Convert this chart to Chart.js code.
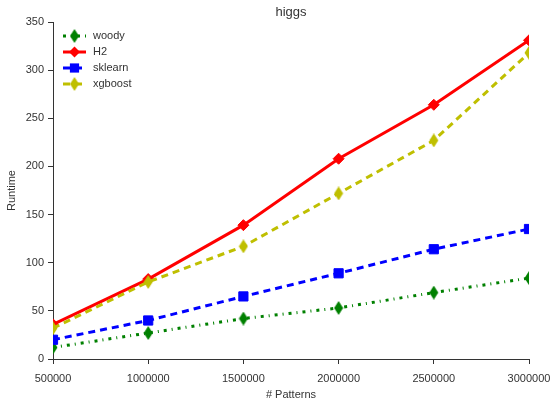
<!DOCTYPE html>
<html>
<head>
<meta charset="utf-8">
<script src="https://cdn.jsdelivr.net/npm/chart.js@4/dist/chart.umd.min.js"></script>
<style>
  html, body { margin: 0; padding: 0; background: #fff; }
  #wrap { width: 550px; height: 398px; }
</style>
</head>
<body>
<div id="wrap"><canvas id="higgsChart"></canvas></div>
<script>
const patterns = [500000, 1000000, 1500000, 2000000, 2500000, 3000000];
const woody = [12, 27, 42, 53, 69, 84];
const h2 = [36, 83, 139, 208, 264, 331];
const sklearn = [20, 40, 65, 89, 114, 135];
const xgboost = [32, 80, 117, 172, 227, 318];
const yTicks = [0, 50, 100, 150, 200, 250, 300, 350];

const textColor = '#333333';
const fontFamily = '"Liberation Sans", Arial, sans-serif';

// thin diamond marker ('d' in matplotlib)
function thinDiamond(color) {
    const c = document.createElement('canvas');
    c.width = 10;
    c.height = 14;
    const g = c.getContext('2d');
    g.fillStyle = color;
    g.beginPath();
    g.moveTo(5, 0);
    g.lineTo(9.5, 7);
    g.lineTo(5, 14);
    g.lineTo(0.5, 7);
    g.closePath();
    g.fill();
    return c;
}

function series(label, data, color, dash, style, radius, order) {
    return {
        label: label,
        data: patterns.map((p, i) => ({ x: p, y: data[i] })),
        borderColor: color,
        backgroundColor: color,
        borderWidth: 3,
        borderDash: dash,
        borderCapStyle: 'butt',
        pointStyle: style,
        pointRadius: radius,
        pointBorderWidth: 1,
        pointBorderColor: color,
        pointBackgroundColor: color,
        tension: 0,
        clip: 0,
        order: order
    };
}

const datasets = [
    series('woody', woody, '#008000', [3, 5, 1, 5], thinDiamond('#008000'), 6, 4),
    series('H2', h2, '#ff0000', [], 'rectRot', 5.5, 3),
    series('sklearn', sklearn, '#0000ff', [7, 5], 'rect', 6.5, 2),
    series('xgboost', xgboost, '#bfbf00', [7, 5], thinDiamond('#bfbf00'), 6, 1)
];

// markers are cut at the plot edges, like the original
const plotClip = {
    id: 'plotClip',
    beforeDatasetsDraw(chart) {
        const a = chart.chartArea;
        chart.ctx.save();
        chart.ctx.beginPath();
        chart.ctx.rect(a.left, a.top, a.right - a.left, a.bottom - a.top);
        chart.ctx.clip();
    },
    afterDatasetsDraw(chart) {
        chart.ctx.restore();
    }
};

// title and in-plot legend
const decorations = {
    id: 'decorations',
    afterDraw(chart) {
        const ctx = chart.ctx;
        const area = chart.chartArea;
        ctx.save();
        ctx.fillStyle = textColor;
        ctx.font = '13px ' + fontFamily;
        ctx.textAlign = 'center';
        ctx.textBaseline = 'middle';
        ctx.fillText('higgs', (area.left + area.right) / 2, 12);

        ctx.font = '11px ' + fontFamily;
        ctx.textAlign = 'left';
        datasets.forEach((ds, i) => {
            const y = 36 + i * 16;
            const x0 = 63, x1 = 86, xm = 74.5;
            ctx.strokeStyle = ds.borderColor;
            ctx.lineWidth = 3;
            ctx.lineCap = 'butt';
            ctx.setLineDash(ds.borderDash);
            ctx.beginPath();
            ctx.moveTo(x0, y);
            ctx.lineTo(x1, y);
            ctx.stroke();
            ctx.setLineDash([]);
            ctx.fillStyle = ds.borderColor;
            const r = ds.pointRadius;
            if (ds.pointStyle instanceof HTMLCanvasElement) {
                const img = ds.pointStyle;
                ctx.drawImage(img, xm - img.width / 2, y - img.height / 2);
            } else if (ds.pointStyle === 'rectRot') {
                ctx.beginPath();
                ctx.moveTo(xm, y - r);
                ctx.lineTo(xm + r, y);
                ctx.lineTo(xm, y + r);
                ctx.lineTo(xm - r, y);
                ctx.closePath();
                ctx.fill();
            } else {
                const s = r * Math.SQRT1_2;
                ctx.fillRect(xm - s, y - s, 2 * s, 2 * s);
            }
            ctx.fillStyle = textColor;
            ctx.fillText(ds.label, 93, y);
        });
        ctx.restore();
    }
};

new Chart(document.getElementById('higgsChart').getContext('2d'), {
    type: 'line',
    data: { datasets: datasets },
    options: {
        responsive: true,
        maintainAspectRatio: false,
        animation: false,
        layout: { padding: { top: 22, right: 21, left: 0, bottom: 0 } },
        plugins: {
            legend: { display: false },
            tooltip: { enabled: false }
        },
        scales: {
            x: {
                type: 'linear',
                min: 500000,
                max: 3000000,
                afterFit: (scale) => {
                    scale.height = 39;
                    scale.paddingLeft = 0;
                    scale.paddingRight = 0;
                },
                afterBuildTicks: (scale) => {
                    scale.ticks = patterns.map(v => ({ value: v }));
                },
                ticks: {
                    color: textColor,
                    font: { family: fontFamily, size: 11 },
                    padding: 8,
                    maxRotation: 0,
                    autoSkip: false,
                    callback: (v) => String(v)
                },
                grid: {
                    drawOnChartArea: false,
                    tickLength: 5,
                    tickColor: textColor
                },
                border: { color: textColor, width: 1 },
                title: {
                    display: true,
                    text: '# Patterns',
                    color: textColor,
                    font: { family: fontFamily, size: 11 },
                    padding: { top: 0, bottom: -4 }
                }
            },
            y: {
                min: 0,
                max: 350,
                afterFit: (scale) => {
                    scale.width = 53;
                    scale.paddingTop = 0;
                    scale.paddingBottom = 0;
                },
                afterBuildTicks: (scale) => {
                    scale.ticks = yTicks.map(v => ({ value: v }));
                },
                ticks: {
                    color: textColor,
                    font: { family: fontFamily, size: 11 },
                    padding: 4
                },
                grid: {
                    drawOnChartArea: false,
                    tickLength: 5,
                    tickColor: textColor
                },
                border: { color: textColor, width: 1 },
                title: {
                    display: true,
                    text: 'Runtime',
                    color: textColor,
                    font: { family: fontFamily, size: 11 },
                    padding: { top: 5, bottom: 0 }
                }
            }
        }
    },
    plugins: [plotClip, decorations]
});
</script>
</body>
</html>
